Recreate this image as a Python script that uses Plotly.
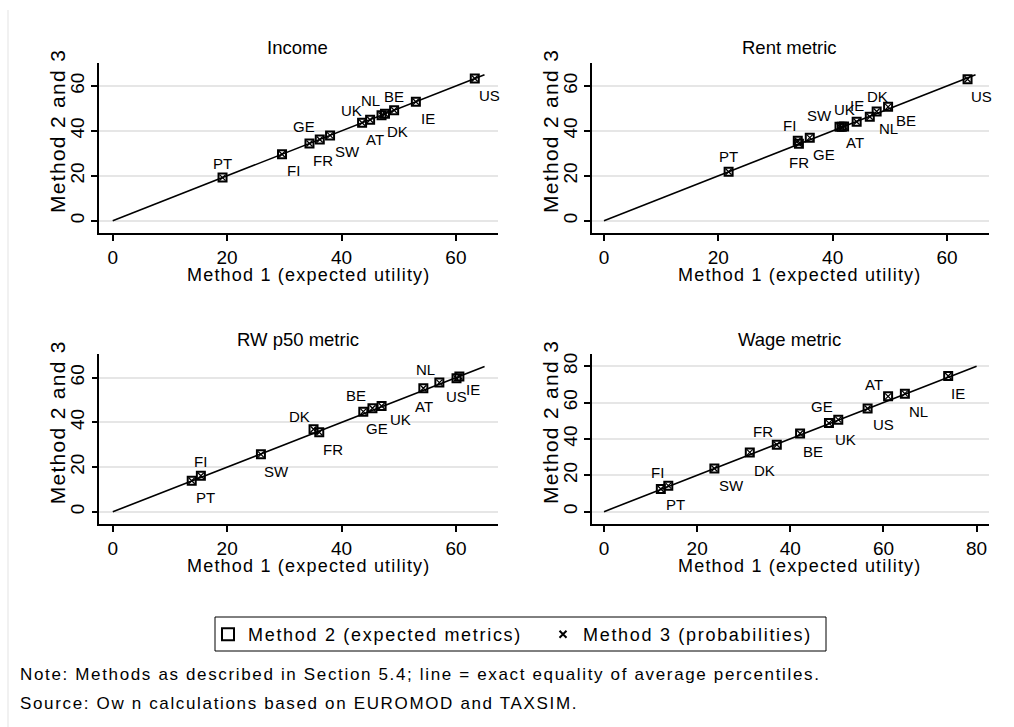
import plotly.graph_objects as go

# ---- data: average percentile by method, per country ----
countries = ["AT", "BE", "DK", "FI", "FR", "GE", "IE", "NL", "PT", "SW", "UK", "US"]

income_m1 = [45.0, 49.2, 47.6, 29.6, 36.2, 34.4, 53.0, 47.0, 19.2, 38.0, 43.6, 63.3]
income_m2 = [45.0, 49.2, 47.6, 29.6, 36.2, 34.4, 53.0, 47.0, 19.2, 38.0, 43.6, 63.3]
income_m3 = [45.0, 49.2, 47.6, 29.6, 36.2, 34.4, 53.0, 47.0, 19.2, 38.0, 43.6, 63.3]

rent_m1 = [41.6, 49.7, 47.7, 33.9, 34.1, 36.0, 44.2, 46.5, 21.8, 41.2, 42.0, 63.6]
rent_m2 = [41.8, 50.7, 48.6, 35.6, 34.3, 37.0, 44.1, 46.3, 21.8, 41.9, 42.0, 63.0]
rent_m3 = [41.8, 50.7, 48.6, 35.6, 34.3, 37.0, 44.1, 46.3, 21.8, 41.9, 42.0, 63.0]

rw_m1 = [54.3, 43.8, 35.1, 15.4, 36.1, 45.4, 60.6, 57.1, 13.8, 25.9, 47.0, 60.1]
rw_m2 = [55.3, 44.8, 36.9, 16.1, 35.6, 46.3, 60.5, 57.8, 13.9, 25.7, 47.3, 59.7]
rw_m3 = [55.3, 44.8, 36.9, 16.1, 35.6, 46.3, 60.5, 57.8, 13.9, 25.7, 47.3, 59.7]

wage_m1 = [61.0, 42.1, 31.3, 12.2, 37.1, 48.3, 73.9, 64.6, 13.8, 23.7, 50.3, 56.6]
wage_m2 = [63.4, 43.0, 32.6, 12.5, 36.8, 48.7, 74.6, 64.9, 14.3, 23.7, 50.6, 56.7]
wage_m3 = [63.4, 43.0, 32.6, 12.5, 36.8, 48.7, 74.6, 64.9, 14.3, 23.7, 50.6, 56.7]

panel_titles = ["Income", "Rent metric", "RW p50 metric", "Wage metric"]
equality_line_end = [65, 65, 65, 80]
tick_values = [[0, 20, 40, 60], [0, 20, 40, 60], [0, 20, 40, 60], [0, 20, 40, 60, 80]]

x_title = "Method 1 (expected utility)"
y_title = "Method 2 and 3"
legend_names = ["Method 2 (expected metrics)", "Method 3 (probabilities)"]
note_lines = [
    "Note: Methods as described in Section 5.4; line = exact equality of average percentiles.",
    "Source: Ow n calculations based on EUROMOD and TAXSIM.",
]

# ---- layout helpers ----
W, H = 1014, 727
FONT = "Liberation Sans, Arial, sans-serif"

def px_x(p):
    return p / W

def px_y(p):
    return 1 - p / H

def spaced(text, px):
    """Wrap text in a span with extra letter spacing."""
    return f'<span style="letter-spacing:{px}px">{text}</span>'

# plot-region boxes in pixels: (left, right, top, bottom), axis ranges
panels = [
    dict(box=(99, 498, 63, 233), xr=[-2.40, 67.36], yr=[-5.48, 70.24]),
    dict(box=(592, 988.7, 63, 233), xr=[-2.10, 67.30], yr=[-5.48, 70.24]),
    dict(box=(99.3, 497.7, 354, 524.3), xr=[-2.36, 67.30], yr=[-5.60, 70.60]),
    dict(box=(592, 988.7, 354, 524.3), xr=[-2.58, 82.60], yr=[-6.95, 86.70]),
]

# marker-label placement (pixel offsets from the marker, +dy = downward)
label_offsets = [
    {"PT": (0, -14), "FI": (11, 16), "GE": (-5, -17), "FR": (3, 21), "SW": (17, 16),
     "UK": (-11, -12), "AT": (5, 20), "NL": (-11, -15), "DK": (13, 18), "BE": (0, -14),
     "IE": (12, 17), "US": (15, 17)},
    {"PT": (0, -15), "FI": (-8, -15), "FR": (0, 19), "GE": (14, 17), "SW": (-20, -11),
     "AT": (13, 16), "UK": (0, -17), "IE": (0, -16), "NL": (19, 12), "DK": (1, -15),
     "BE": (18, 14), "US": (14, 17)},
    {"PT": (14, 17), "FI": (0, -14), "SW": (16, 17), "DK": (-14, -13), "FR": (14, 17),
     "BE": (-7, -16), "GE": (5, 20), "UK": (19, 13), "AT": (1, 18), "NL": (-14, -13),
     "US": (0, 18), "IE": (14, 13)},
    {"FI": (-3, -16), "PT": (7, 19), "SW": (17, 17), "DK": (15, 18), "FR": (-14, -13),
     "BE": (13, 18), "GE": (-7, -17), "UK": (7, 20), "US": (16, 16), "AT": (-14, -12),
     "NL": (14, 18), "IE": (10, 18)},
]

series = [
    (income_m1, income_m2, income_m3),
    (rent_m1, rent_m2, rent_m3),
    (rw_m1, rw_m2, rw_m3),
    (wage_m1, wage_m2, wage_m3),
]

fig = go.Figure()
annotations = []
layout_axes = {}

for i, (panel, (m1, m2, m3)) in enumerate(zip(panels, series)):
    n = i + 1
    xa = "x" if n == 1 else f"x{n}"
    ya = "y" if n == 1 else f"y{n}"
    xkey = "xaxis" if n == 1 else f"xaxis{n}"
    ykey = "yaxis" if n == 1 else f"yaxis{n}"
    left, right, top, bottom = panel["box"]

    end = equality_line_end[i]
    fig.add_trace(go.Scatter(
        x=[0, end], y=[0, end], xaxis=xa, yaxis=ya, mode="lines",
        line=dict(color="black", width=1.6), showlegend=False, hoverinfo="skip"))
    fig.add_trace(go.Scatter(
        x=m1, y=m2, xaxis=xa, yaxis=ya, mode="markers", name=legend_names[0],
        marker=dict(symbol="square-open", size=8, color="black", line=dict(width=2, color="black")),
        showlegend=False))
    fig.add_trace(go.Scatter(
        x=m1, y=m3, xaxis=xa, yaxis=ya, mode="markers", name=legend_names[1],
        marker=dict(symbol="x-thin-open", size=6, color="black", line=dict(width=1.3, color="black")),
        showlegend=False))

    for c, xv, yv in zip(countries, m1, m2):
        dx, dy = label_offsets[i][c]
        annotations.append(dict(
            x=xv, y=yv, xref=xa, yref=ya, text=c, showarrow=False,
            xshift=dx, yshift=-dy, font=dict(family=FONT, size=15, color="black"),
            xanchor="center", yanchor="middle"))

    layout_axes[xkey] = dict(
        domain=[px_x(left), px_x(right)], range=panel["xr"], anchor=ya,
        showline=True, linecolor="black", linewidth=1.5, mirror=False,
        ticks="outside", ticklen=6, tickwidth=1.5, tickcolor="black",
        tickvals=tick_values[i], showgrid=False, zeroline=False,
        tickfont=dict(family=FONT, size=19, color="black"))
    layout_axes[ykey] = dict(
        domain=[px_y(bottom), px_y(top)], range=panel["yr"], anchor=xa,
        showline=True, linecolor="black", linewidth=1.5, mirror=False,
        ticks="outside", ticklen=6, tickwidth=1.5, tickcolor="black",
        tickvals=tick_values[i], tickangle=-90, showgrid=True,
        gridcolor="#e6e6e6", gridwidth=1.5, zeroline=False,
        tickfont=dict(family=FONT, size=19, color="black"))

    cx = (left + right) / 2
    # panel title
    annotations.append(dict(
        x=px_x(cx - 1), y=px_y(top - 15), xref="paper", yref="paper",
        text=panel_titles[i], showarrow=False, xanchor="center", yanchor="middle",
        font=dict(family=FONT, size=18.5, color="black")))
    # axis titles
    annotations.append(dict(
        x=px_x(cx + 10), y=px_y(bottom + 42), xref="paper", yref="paper",
        text=spaced(x_title, 1.2), showarrow=False, xanchor="center", yanchor="middle",
        font=dict(family=FONT, size=18, color="black")))
    annotations.append(dict(
        x=px_x(left - 42), y=px_y(top + 68), xref="paper", yref="paper",
        text=spaced(y_title, 1.3), showarrow=False, textangle=-90, xanchor="center", yanchor="middle",
        font=dict(family=FONT, size=21, color="black")))

# legend entries (shared by all panels)
fig.add_trace(go.Scatter(
    x=[None], y=[None], mode="markers", name=spaced(legend_names[0], 1.7),
    marker=dict(symbol="square-open", size=12, color="black", line=dict(width=2, color="black")),
    showlegend=True))
fig.add_trace(go.Scatter(
    x=[None], y=[None], mode="markers", name=spaced(legend_names[1], 1.7),
    marker=dict(symbol="x-thin-open", size=7, color="black", line=dict(width=2, color="black")),
    showlegend=True))

for k, line in enumerate(note_lines):
    annotations.append(dict(
        x=px_x(18), y=px_y(674 + 29 * k), xref="paper", yref="paper",
        text=spaced(line, 1.65), showarrow=False, xanchor="left", yanchor="middle",
        font=dict(family=FONT, size=17, color="black")))

fig.update_layout(
    width=W, height=H,
    margin=dict(l=0, r=0, t=0, b=0),
    paper_bgcolor="white", plot_bgcolor="white",
    font=dict(family=FONT, color="black"),
    showlegend=True,
    legend=dict(
        orientation="h", x=px_x(208), xanchor="left", y=px_y(616), yanchor="top",
        borderwidth=0, bgcolor="rgba(0,0,0,0)",
        font=dict(family=FONT, size=18, color="black"),
        itemclick=False, itemdoubleclick=False, entrywidth=290, entrywidthmode="pixels"),
    annotations=annotations,
    shapes=[
        dict(type="line", xref="paper", yref="paper",
             x0=px_x(8), x1=px_x(8), y0=0, y1=px_y(10),
             line=dict(color="#e3e3e3", width=1)),
        # legend frame
        dict(type="rect", xref="paper", yref="paper",
             x0=px_x(215), x1=px_x(826), y0=px_y(651), y1=px_y(617),
             line=dict(color="black", width=1), fillcolor="rgba(0,0,0,0)"),
    ],
    **layout_axes,
)

fig.write_html("out.html")
